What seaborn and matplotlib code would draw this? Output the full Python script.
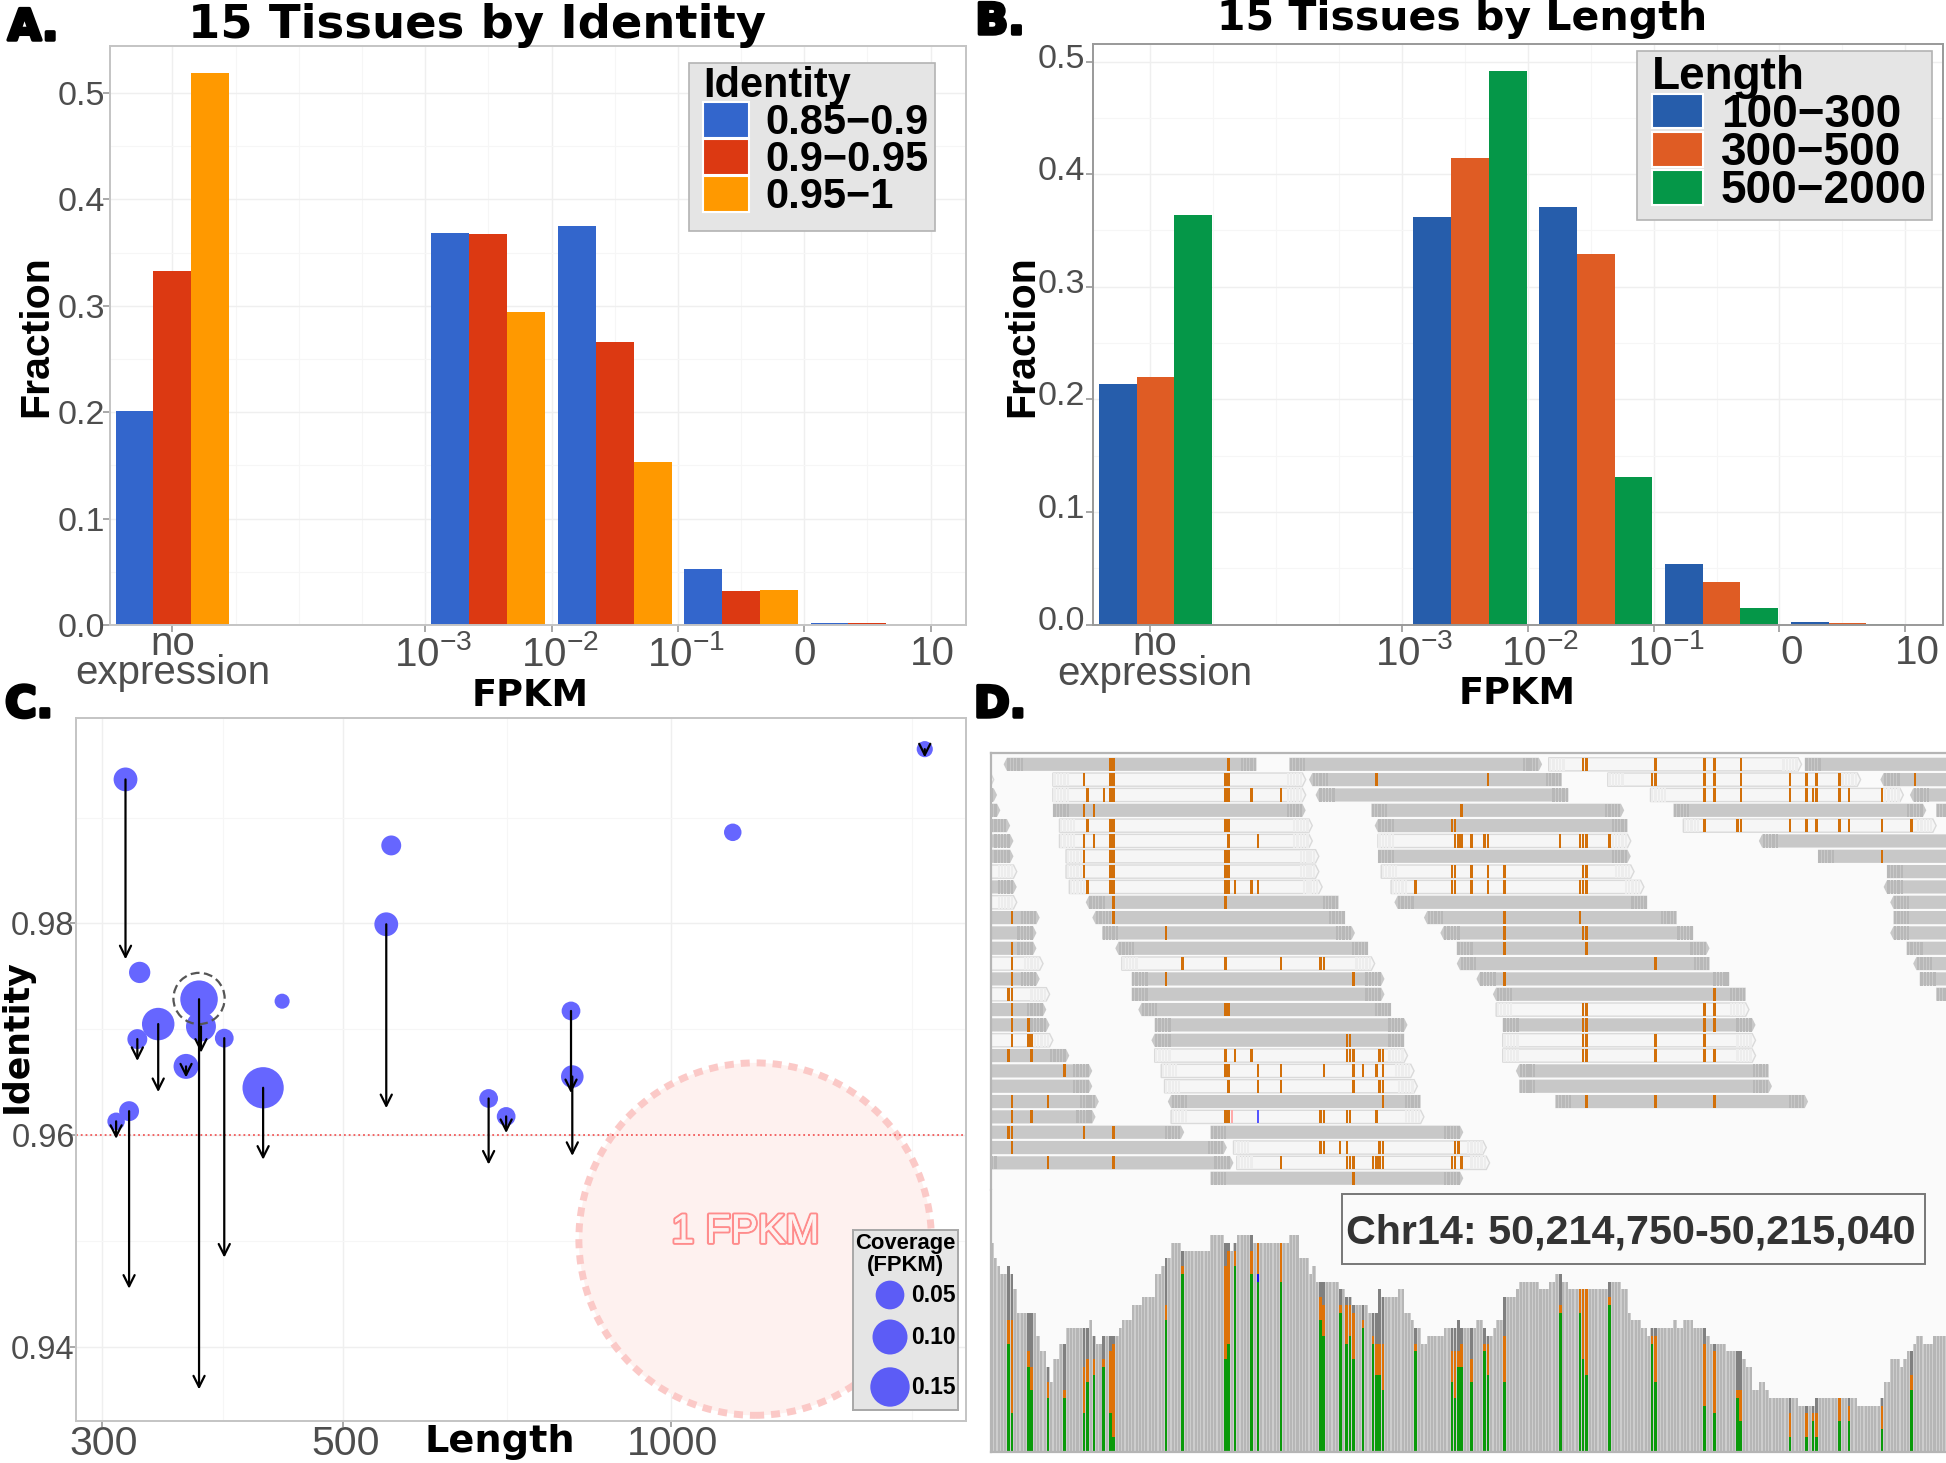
import matplotlib
matplotlib.use('Agg')
import matplotlib.pyplot as plt
import matplotlib.patheffects as pe
from matplotlib.patches import Patch, Polygon, Rectangle
from matplotlib.ticker import NullFormatter
from matplotlib.transforms import Affine2D, ScaledTranslation
import pandas as pd
import seaborn as sns

# Panels A and B: fraction of transcripts per FPKM bin
bin_pos = [0, 2.5, 3.5, 4.5, 5.5]
bin_pos_b = [0.04, 2.54, 3.54, 4.54, 5.54]
identity_labels = ['0.85\u22120.9', '0.9\u22120.95', '0.95\u22121']
identity_low = [0.201, 0.368, 0.375, 0.0525, 0.0015]
identity_mid = [0.333, 0.367, 0.266, 0.032, 0.0015]
identity_high = [0.519, 0.294, 0.153, 0.033, 0.0003]
length_labels = ['100\u2212300', '300\u2212500', '500\u22122000']
length_short = [0.2137, 0.3617, 0.3707, 0.0538, 0.002]
length_mid = [0.2198, 0.4144, 0.329, 0.0375, 0.0015]
length_long = [0.3634, 0.4914, 0.1313, 0.0147, 0.0003]
identity_colors = ['#3366CC', '#DC3912', '#FF9900']
length_colors = ['#265DAB', '#DF5C24', '#059748']
fpkm_ticks = [0, 2, 3, 4, 5, 6]
fpkm_labels = ['no\nexpression', '$10^{-3}$', '$10^{-2}$', '$10^{-1}$', '0', '10']

# Panel C: one entry per locus
locus_length = [315.4, 325, 368.5, 370, 338, 323.4, 388.7, 358.5, 422, 439.3,
                317.8, 309.2, 553.4, 547.6, 680, 705.7, 809.5, 811.7, 1139.8, 1711]
locus_identity = [0.9936, 0.97536, 0.97283, 0.97025, 0.97048, 0.96906, 0.96915, 0.96648, 0.96446, 0.97264,
                  0.96225, 0.96129, 0.98736, 0.97991, 0.96345, 0.96175, 0.97172, 0.96552, 0.9886, 0.99646]
locus_coverage = [0.05, 0.04, 0.124, 0.079, 0.093, 0.035, 0.031, 0.055, 0.15, 0.02,
                  0.035, 0.027, 0.035, 0.05, 0.031, 0.031, 0.031, 0.045, 0.027, 0.023]
# identity after correction, None means no arrow
locus_corrected = [0.9766, None, 0.93595, 0.96777, 0.96405, 0.96699, 0.94841, 0.96543, 0.95766, None,
                   0.94547, 0.95963, None, 0.96253, 0.9572, 0.96018, 0.96395, 0.95802, None, 0.99568]
legend_coverage = [0.05, 0.10, 0.15]

# Panel D: reads per row as (start base, kind, direction, mismatch bases)
row_00 = [(4, 'G', '<', [36, 37, 72]), (91, 'G', '>', []), (170, 'L', '>', [180, 181, 202, 217, 220, 228]), (248, 'G', '>', [])]
row_01 = [(-76, 'L', '>', []), (19, 'L', '>', [28, 36, 37, 71, 72]), (97, 'G', '<', [117, 151]), (188, 'L', '>', [201, 202, 217, 220, 228, 243, 248, 251, 258]), (271, 'G', '<', [281])]
row_02 = [(-75, 'G', '>', []), (19, 'L', '>', [29, 34, 36, 37, 71, 72, 79, 88]), (99, 'G', '<', []), (201, 'L', '>', [217, 220, 228, 243, 248, 250, 251, 258, 261, 271]), (280, 'G', '<', [])]
row_03 = [(-74, 'G', '>', []), (19, 'G', '>', [28, 31]), (116, 'G', '>', [143]), (208, 'G', '>', []), (288, 'G', '>', [])]
row_04 = [(-71, 'G', '>', []), (21, 'L', '>', [29, 36, 37, 71, 72]), (117, 'G', '<', [140, 141]), (211, 'L', '>', [217, 227, 228, 243, 248, 251, 258, 261, 271, 280])]
row_05 = [(-70, 'G', '>', []), (21, 'L', '>', [28, 31, 36, 37, 72, 81]), (118, 'L', '>', [141, 142, 143, 146, 150, 151, 173, 179, 180, 181, 188]), (234, 'G', '<', [])]
row_06 = [(-70, 'G', '>', []), (23, 'L', '>', [28, 36, 37, 71, 72]), (118, 'G', '>', []), (252, 'G', '>', [271])]
row_07 = [(-69, 'L', '>', []), (23, 'L', '>', [28, 36, 37, 71, 72]), (119, 'L', '>', [140, 141, 146, 151, 156, 180, 181]), (273, 'G', '>', [])]
row_08 = [(-69, 'G', '>', []), (24, 'L', '>', [29, 36, 37, 71, 72, 74, 79, 81]), (122, 'L', '>', [129, 140, 141, 146, 151, 156, 179, 180, 181]), (272, 'G', '<', [])]
row_09 = [(-69, 'L', '>', []), (29, 'G', '<', [37, 71]), (123, 'G', '<', []), (274, 'G', '<', [])]
row_10 = [(-62, 'G', '>', [6]), (31, 'G', '<', [37]), (132, 'G', '<', [156, 179]), (275, 'G', '>', [])]
row_11 = [(-63, 'G', '>', []), (34, 'G', '>', [53]), (137, 'G', '<', [156, 180, 181]), (274, 'G', '<', [])]
row_12 = [(-63, 'G', '>', [6]), (38, 'G', '<', []), (142, 'G', '>', [156, 181]), (279, 'G', '>', [])]
row_13 = [(-61, 'L', '>', [6]), (40, 'L', '>', [58, 71, 88, 100, 101]), (142, 'G', '<', [202]), (281, 'G', '<', [])]
row_14 = [(-62, 'G', '>', [6]), (43, 'G', '>', [53, 110]), (148, 'G', '<', [156]), (283, 'G', '>', [])]
row_15 = [(-59, 'L', '>', [5, 6]), (43, 'G', '>', []), (153, 'G', '<', [220]), (288, 'G', '>', [])]
row_16 = [(-60, 'G', '>', [6]), (45, 'G', '<', [71, 72]), (154, 'L', '>', [180, 181, 217, 220])]
row_17 = [(-59, 'G', '>', [6, 11]), (50, 'G', '>', []), (156, 'G', '>', [180, 181, 217, 220])]
row_18 = [(-58, 'L', '>', [6, 11, 12]), (49, 'G', '<', [108, 109]), (156, 'L', '>', [180, 181, 202, 217])]
row_19 = [(-53, 'G', '>', [5, 12]), (50, 'L', '>', [71, 74, 79, 108, 109, 110, 118, 119]), (156, 'L', '>', [180, 181, 202, 217, 220])]
row_20 = [(-46, 'G', '>', [22]), (52, 'L', '>', [71, 72, 81, 88, 101, 110, 113, 117, 119]), (160, 'G', '<', [])]
row_21 = [(-46, 'G', '>', []), (53, 'L', '>', [72, 81, 88, 110, 118, 119]), (161, 'G', '>', [])]
row_22 = [(-44, 'G', '>', [6, 17]), (54, 'G', '<', [119]), (172, 'G', '>', [181, 202, 220])]
row_23 = [(-45, 'G', '>', [6, 12]), (55, 'L', '>', [71, 72, 100, 101, 108, 109, 117])]
row_24 = [(-18, 'G', '>', [5, 6, 28, 37]), (67, 'G', '>', [])]
row_25 = [(-5, 'G', '>', [6]), (74, 'L', '>', [100, 101, 106, 108, 118, 119, 141, 142])]
row_26 = [(-3, 'G', '>', [17, 37]), (75, 'L', '>', [88, 108, 109, 110, 116, 117, 118, 119, 140, 141, 143])]
row_27 = [(67, 'G', '>', [110])]
read_rows = [row_00, row_01, row_02, row_03, row_04, row_05, row_06, row_07, row_08, row_09,
             row_10, row_11, row_12, row_13, row_14, row_15, row_16, row_17, row_18, row_19,
             row_20, row_21, row_22, row_23, row_24, row_25, row_26, row_27]
read_len = 77

# read depth at each base of the window
depth = [27, 25, 24, 23, 23, 24, 23, 21, 18, 18, 18, 18, 18, 18, 15, 13, 13, 11, 9, 12,
         12, 14, 14, 16, 16, 16, 16, 16, 16, 16, 17, 15, 14, 14, 15, 15, 15, 15, 15, 16,
         17, 17, 17, 19, 19, 19, 20, 20, 20, 20, 23, 23, 24, 25, 25, 27, 27, 27, 26, 26,
         26, 26, 26, 26, 26, 26, 26, 28, 28, 28, 28, 27, 27, 26, 27, 28, 28, 28, 28, 28,
         27, 27, 27, 27, 27, 27, 27, 27, 27, 27, 27, 28, 28, 28, 25, 25, 25, 23, 24, 22,
         22, 22, 22, 22, 22, 22, 21, 21, 20, 20, 19, 19, 19, 19, 19, 18, 18, 18, 21, 20,
         20, 20, 20, 20, 21, 21, 18, 18, 17, 16, 16, 14, 14, 15, 15, 15, 15, 15, 16, 16,
         16, 16, 17, 16, 16, 16, 16, 16, 17, 17, 16, 15, 15, 16, 17, 17, 20, 20, 20, 20,
         21, 22, 22, 22, 22, 22, 22, 21, 21, 21, 22, 22, 23, 23, 22, 22, 21, 21, 21, 21,
         21, 21, 21, 21, 21, 21, 21, 21, 22, 22, 22, 22, 21, 21, 18, 17, 17, 17, 16, 16,
         15, 16, 16, 16, 16, 16, 16, 16, 17, 16, 16, 17, 17, 17, 16, 16, 16, 16, 15, 14,
         14, 14, 14, 14, 13, 13, 13, 13, 13, 12, 11, 11, 8, 8, 9, 9, 8, 7, 7, 7,
         7, 7, 7, 7, 7, 7, 6, 6, 6, 6, 6, 7, 7, 7, 7, 7, 7, 7, 7, 7,
         7, 7, 7, 7, 6, 6, 6, 6, 6, 6, 6, 7, 9, 9, 12, 12, 12, 11, 12, 13,
         13, 14, 15, 15, 14, 14, 14, 15, 15, 15, 15]
# columns with mismatches: base, depth of reference part, depth up to alt part
mm_base = [5, 6, 11, 12, 17, 22, 28, 29, 31, 34, 36, 37, 53, 58, 71, 72, 74, 79, 81, 88,
           100, 101, 106, 108, 109, 110, 113, 116, 117, 118, 119, 129, 140, 141, 142, 143, 146, 150, 151, 156,
           173, 179, 180, 181, 188, 201, 202, 217, 220, 227, 228, 243, 248, 250, 251, 258, 261, 271, 280]
mm_green = [14, 5, 11, 8, 7, 7, 5, 9, 10, 11, 5, 2, 17, 23, 12, 14, 24, 23, 22, 22,
            17, 15, 18, 14, 15, 12, 16, 14, 10, 10, 8, 13, 9, 7, 11, 11, 9, 13, 10, 9,
            18, 18, 12, 10, 19, 14, 9, 6, 5, 7, 4, 2, 2, 4, 2, 4, 4, 3, 8]
mm_orange = [17, 17, 13, 11, 9, 8, 11, 12, 12, 12, 13, 14, 19, 24, 24, 26, 26, 26, 27, 27,
             20, 19, 19, 19, 19, 18, 17, 15, 14, 14, 14, 14, 13, 13, 13, 14, 12, 14, 14, 15,
             19, 21, 21, 21, 20, 15, 15, 14, 13, 8, 8, 5, 5, 5, 5, 7, 6, 6, 10]

W, H = 1946, 1463
plt.rcParams['mathtext.fontset'] = 'custom'
plt.rcParams['mathtext.rm'] = 'Liberation Sans'
plt.rcParams['mathtext.default'] = 'regular'
sns.set_theme(style='white')
plt.rcParams['font.family'] = ['Liberation Sans', 'DejaVu Sans']

fig = plt.figure(figsize=(W / 100, H / 100), dpi=100, facecolor='white')
px = Affine2D().scale(1 / W, -1 / H).translate(0, 1) + fig.transFigure


def px_axes(left, top, right, bottom):
    return fig.add_axes([left / W, 1 - bottom / H, (right - left) / W, (bottom - top) / H])


def frame(ax, color):
    for s in ax.spines.values():
        s.set_visible(True)
        s.set_color(color)
        s.set_linewidth(1.4)


def nudge(label, dx, dy):
    # dx, dy in pixels, dy positive goes up
    label.set_transform(label.get_transform() + ScaledTranslation(dx / 100, dy / 100, fig.dpi_scale_trans))


def fraction_panel(box, pos, series, labels, colors, legend_title, y_top, x_lim, spine, font, hh, spacing, anchor, key_box):
    ax = px_axes(*box)
    df = pd.DataFrame({'pos': pos * 3,
                       'fraction': series[0] + series[1] + series[2],
                       'group': [labels[0]] * 5 + [labels[1]] * 5 + [labels[2]] * 5})
    sns.barplot(data=df, x='pos', y='fraction', hue='group', hue_order=labels, palette=colors,
                native_scale=True, width=0.9, gap=0, saturation=1, errorbar=None, linewidth=0, ax=ax, legend=False)
    ax.set_xlim(*x_lim)
    ax.set_ylim(0, y_top)
    ax.set_xticks(fpkm_ticks)
    ax.set_xticklabels(fpkm_labels, fontsize=29, color='#4D4D4D', linespacing=0.72)
    ax.set_xticks([0.5, 1, 1.5, 2.5, 3.5, 4.5, 5.5], minor=True)
    ax.set_yticks([0, 0.1, 0.2, 0.3, 0.4, 0.5])
    ax.set_yticklabels(['0.0', '0.1', '0.2', '0.3', '0.4', '0.5'], fontsize=24.5, color='#4D4D4D')
    ax.set_yticks([0.05, 0.15, 0.25, 0.35, 0.45], minor=True)
    ax.tick_params(axis='both', which='major', length=5, width=1.2, color='#999999', bottom=True, left=True, pad=2)
    ax.tick_params(axis='both', which='minor', length=0)
    ax.set_axisbelow(True)
    ax.grid(which='major', color='#EFEFEF', lw=1)
    ax.grid(which='minor', color='#F6F6F6', lw=0.8)
    frame(ax, spine)
    # legend box is drawn apart because its left margin is wider than the right one
    ax.add_patch(Rectangle(key_box[:2], key_box[2], key_box[3], transform=px, facecolor='#E5E5E5',
                           edgecolor='#B3B3B3', lw=1.2, zorder=4, clip_on=False))
    handles = [Patch(facecolor=c, edgecolor='white', lw=1.5) for c in colors]
    leg = ax.legend(handles, labels, title=legend_title, loc='upper right', frameon=False,
                    fontsize=font, title_fontsize=font,
                    handlelength=1.1, handleheight=hh, labelspacing=spacing, handletextpad=0.4,
                    borderpad=0.2, borderaxespad=0, bbox_to_anchor=anchor, bbox_transform=fig.transFigure,
                    alignment='left')
    leg.set_zorder(6)
    for t in leg.get_texts():
        t.set_fontweight('bold')
        t.set_color('black')
    leg.get_title().set_fontweight('bold')
    leg.get_title().set_color('black')
    ax.set_xlabel('')
    ax.set_ylabel('')
    return ax


def pixel_label(x, y, text, size, family='DejaVu Sans', weight='bold', rotation=0, **kw):
    return fig.text(x, y, text, transform=px, ha='center', va='center', fontsize=size,
                    family=family, fontweight=weight, rotation=rotation, color='black', **kw)


# Panel A
ax_a = fraction_panel((110, 45.5, 966, 625), bin_pos, [identity_low, identity_mid, identity_high],
                      identity_labels, identity_colors, 'Identity', 0.5445, (-0.494, 6.28), '#C4C4C4',
                      29.9, 0.98, -0.11, (937 / W, 1 - 58 / H), (689, 63, 246, 168))
a_labels = ax_a.get_xticklabels()
nudge(a_labels[0], 0, 10)
for lab in a_labels[1:4]:
    nudge(lab, 8, 0)
nudge(a_labels[5], 2, 0)
for lab in ax_a.get_yticklabels():
    nudge(lab, 5, 0)

# Panel B
ax_b = fraction_panel((1092.5, 43.5, 1943, 624.5), bin_pos_b, [length_short, length_mid, length_long],
                      length_labels, length_colors, 'Length', 0.516, (-0.46, 6.30), '#999999',
                      33, 0.78, -0.13, (1936 / W, 1 - 46 / H), (1637, 51, 295, 169))
b_labels = ax_b.get_xticklabels()
nudge(b_labels[0], 4, 9)
for lab in b_labels[1:]:
    nudge(lab, 12, 0)
for lab in ax_b.get_yticklabels():
    nudge(lab, 2, 6)

pixel_label(476.5, 25, '15 Tissues by Identity', 33.5)
pixel_label(1462.6, 19, '15 Tissues by Length', 29.5)
pixel_label(530, 695, 'FPKM', 26.5)
pixel_label(1517, 693, 'FPKM', 26.5)
pixel_label(36, 336, 'Fraction', 29.5, family='Liberation Sans', rotation=90)
pixel_label(1022, 336, 'Fraction', 29.5, family='Liberation Sans', rotation=90)

# Panel C
ax_c = px_axes(75.6, 717.5, 966, 1421)
ax_c.set_xscale('log')
ax_c.set_xlim(283.8, 1867)
ax_c.set_ylim(0.93297, 0.99945)
ax_c.set_axisbelow(True)
ax_c.set_xticks([300, 500, 1000])
ax_c.set_xticklabels(['300', '500', '1000'], fontsize=29.5, color='#4D4D4D')
ax_c.set_xticks([388, 707, 1667], minor=True)
ax_c.xaxis.set_minor_formatter(NullFormatter())
ax_c.set_yticks([0.94, 0.96, 0.98])
ax_c.set_yticklabels(['0.94', '0.96', '0.98'], fontsize=23.5, color='#4D4D4D')
ax_c.set_yticks([0.95, 0.97, 0.99], minor=True)
ax_c.tick_params(axis='both', which='major', length=4, width=1.2, color='#999999', bottom=True, left=True, pad=1)
ax_c.tick_params(axis='both', which='minor', length=0)
ax_c.grid(which='major', color='#EFEFEF', lw=1)
ax_c.grid(which='minor', color='#F6F6F6', lw=0.8)
frame(ax_c, '#C4C4C4')
for lab in ax_c.get_xticklabels():
    nudge(lab, 2, 3)
for lab in ax_c.get_yticklabels():
    nudge(lab, 6, 0)

ax_c.scatter([1195], [0.95016], s=64400, facecolor='#FEF1EF', edgecolor='#FBC9C7', linewidth=5,
             linestyle=(0, (1.3, 1.0)), zorder=1.5)
ax_c.axhline(0.96, color='#F25A5A', ls=':', lw=1.3, zorder=1.6)
ax_c.text(1171, 0.95085, '1 FPKM', fontsize=29.5, color='#FEF1EF', ha='center', va='center', zorder=2,
          path_effects=[pe.withStroke(linewidth=3, foreground='#FF8C8C'), pe.Normal()])
points = pd.DataFrame({'length': locus_length, 'identity': locus_identity, 'coverage': locus_coverage})
sns.scatterplot(data=points, x='length', y='identity', size='coverage', sizes=(0, 1176), size_norm=(0, 0.2),
                color='#6666FF', linewidth=0, alpha=1, legend=False, ax=ax_c, zorder=3)
ax_c.scatter([368.5], [0.9729], s=1360, facecolor='none', edgecolor='#555555', linewidth=1.6,
             linestyle=(0, (4, 2)), zorder=3.5)
for lx, ly, lc in zip(locus_length, locus_identity, locus_corrected):
    if lc is None:
        continue
    ax_c.annotate('', xy=(lx, lc), xytext=(lx, ly), zorder=4,
                  arrowprops=dict(arrowstyle='->', lw=1.6, color='black', mutation_scale=20, shrinkA=0, shrinkB=0))
ax_c.set_xlabel('')
ax_c.set_ylabel('')
pixel_label(500, 1442, 'Length', 27.5)
pixel_label(17, 1036, 'Identity', 25, rotation=90)

# Coverage key of panel C
ax_key = px_axes(853, 1229.5, 958, 1410)
ax_key.set_facecolor('#E5E5E5')
frame(ax_key, '#A8A8A8')
ax_key.set_xlim(853, 958)
ax_key.set_ylim(1410, 1229.5)
ax_key.set_xticks([])
ax_key.set_yticks([])
key_df = pd.DataFrame({'x': [890, 890, 890], 'y': [1295, 1337, 1387], 'coverage': legend_coverage})
sns.scatterplot(data=key_df, x='x', y='y', hue='coverage', palette=['#5C5CF6'] * 3, size='coverage',
                sizes={0.05: 428, 0.10: 635, 0.15: 804}, linewidth=0, legend=False, ax=ax_key)
ax_key.set_xlabel('')
ax_key.set_ylabel('')
for yy, val in zip(key_df['y'], legend_coverage):
    ax_key.text(911, yy, f'{val:.2f}', fontsize=16.5, fontweight='bold', va='center', ha='left', color='black')
ax_key.text(905.5, 1243, 'Coverage', fontsize=15.8, fontweight='bold', va='center', ha='center', color='black')
ax_key.text(905.5, 1266, '(FPKM)', fontsize=15.8, fontweight='bold', va='center', ha='center', color='black')

# Panel D: reads
row_px = 15.33
ax_r = px_axes(990.5, 753, 1946, 1190)
ax_r.set_facecolor('#FAFAFA')
ax_r.set_xlim(0, 291)
ax_r.set_ylim((1190 - 764.3) / row_px, (753 - 764.3) / row_px)
ax_r.set_xticks([])
ax_r.set_yticks([])
for s in ax_r.spines.values():
    s.set_visible(False)
for side in ('top', 'left'):
    ax_r.spines[side].set_visible(True)
    ax_r.spines[side].set_color('#B5B5B5')
    ax_r.spines[side].set_linewidth(1.6)

half = 0.43
for r, row in enumerate(read_rows):
    for start, kind, way, mm in row:
        end = start + read_len
        body = '#C8C8C8' if kind == 'G' else '#F6F6F6'
        edge = 'none' if kind == 'G' else '#DADADA'
        clip = '#B8B8B8' if kind == 'G' else '#EDEDED'
        if way == '<':
            pts = [(start + 1, r - half), (end, r - half), (end, r + half), (start + 1, r + half), (start, r)]
            zones = [start + 1, end - 5]
        else:
            pts = [(start, r - half), (end - 1, r - half), (end, r), (end - 1, r + half), (start, r + half)]
            zones = [start, end - 6]
        ax_r.add_patch(Polygon(pts, closed=True, facecolor=body, edgecolor=edge, lw=1, zorder=2))
        for z in zones:
            for k in range(5):
                ax_r.add_patch(Rectangle((z + k + 0.15, r - half), 0.7, 2 * half, facecolor=clip,
                                         edgecolor='none', zorder=3))
        for b in mm:
            ax_r.add_patch(Rectangle((b + 0.12, r - half), 0.76, 2 * half, facecolor='#D2700A',
                                     edgecolor='none', zorder=4))
ax_r.add_patch(Rectangle((73.12, 23 - half), 0.76, 2 * half, facecolor='#FFAAAA', edgecolor='none', zorder=4))
ax_r.add_patch(Rectangle((81.12, 23 - half), 0.76, 2 * half, facecolor='#5555FF', edgecolor='none', zorder=4))

# Panel D: coverage track
ax_t = px_axes(990.5, 1190, 1946, 1452)
ax_t.set_facecolor('#FAFAFA')
bases = [b + 0.5 for b in range(len(depth))]
mm_x = [b + 0.5 for b in mm_base]
mm_depth = [depth[b] for b in mm_base]
sns.barplot(x=bases, y=depth, native_scale=True, color='#CDCDCD', saturation=1, width=1.0, linewidth=0, ax=ax_t)
sns.barplot(x=bases, y=depth, native_scale=True, color='#B6B6B6', saturation=1, width=0.62, linewidth=0, ax=ax_t)
sns.barplot(x=mm_x, y=mm_depth, native_scale=True, color='#808080', saturation=1, width=0.8, linewidth=0, ax=ax_t)
sns.barplot(x=mm_x, y=mm_orange, native_scale=True, color='#DE7208', saturation=1, width=0.8, linewidth=0, ax=ax_t)
sns.barplot(x=mm_x, y=mm_green, native_scale=True, color='#0A9A0A', saturation=1, width=0.8, linewidth=0, ax=ax_t)
sns.barplot(x=[81.5], y=[23], native_scale=True, color='#1010F0', saturation=1, width=0.8, linewidth=0, ax=ax_t)
sns.barplot(x=[81.5], y=[22], native_scale=True, color='#0A9A0A', saturation=1, width=0.8, linewidth=0, ax=ax_t)
ax_t.set_xlim(0, 291)
ax_t.set_ylim(0, 262 / 7.75)
ax_t.set_xticks([])
ax_t.set_yticks([])
ax_t.set_xlabel('')
ax_t.set_ylabel('')
for s in ax_t.spines.values():
    s.set_visible(False)
for side in ('bottom', 'left'):
    ax_t.spines[side].set_visible(True)
    ax_t.spines[side].set_color('#B5B5B5')
    ax_t.spines[side].set_linewidth(1.6)

fig.add_artist(Rectangle((1342, 1194), 583, 70, transform=px, facecolor='#FAFAFA', edgecolor='#777777', lw=1.4, zorder=5))
fig.text(1631, 1232, 'Chr14: 50,214,750-50,215,040', transform=px, ha='center', va='center', fontsize=29.7,
         fontweight='bold', color='#333333', zorder=6)

# panel letters
for lx, ly, letter in [(33, 28, 'A.'), (1000, 22, 'B.'), (29, 705, 'C.'), (1000, 705, 'D.')]:
    pixel_label(lx, ly, letter, 31, path_effects=[pe.withStroke(linewidth=2.5, foreground='black')])

fig.savefig('out.png', dpi=100)
